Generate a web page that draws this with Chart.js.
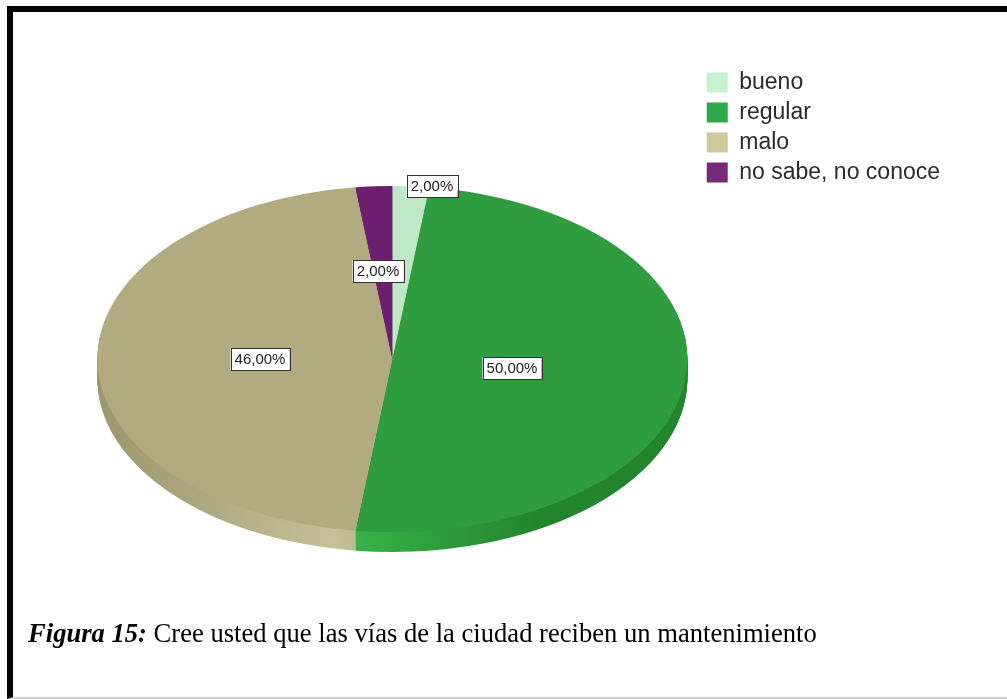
<!DOCTYPE html>
<html>
<head>
<meta charset="utf-8">
<script src="https://cdn.jsdelivr.net/npm/chart.js@4.4.0/dist/chart.umd.min.js"></script>
<style>
  html, body { margin: 0; padding: 0; background: #fff; }
  body { width: 1007px; height: 699px; position: relative; overflow: hidden; }
  #marco { position: absolute; left: 7px; top: 6px; right: -30px; bottom: 0; border-left: 6px solid #000; border-top: 6px solid #000; border-bottom: 2px solid #cfcfcf; }
  #grafico { position: absolute; left: 0; top: 0; }
  #pie { position: absolute; left: 28px; top: 618px; font-family: "Liberation Serif", "Times New Roman", serif; font-size: 26.6px; color: #000; white-space: nowrap; }
</style>
</head>
<body>
<div id="marco"></div>
<canvas id="grafico" width="1007" height="699"></canvas>
<div id="pie"><b><i>Figura 15:</i></b> Cree usted que las vías de la ciudad reciben un mantenimiento</div>
<script>
// datos
var categorias = ['bueno', 'regular', 'malo', 'no sabe, no conoce'];
var porcentajes = [2, 50, 46, 2];

// colores (cara, lado oscuro, frente del borde, leyenda)
var coloresCara = ['#bfe9c6', '#2e9c3f', '#b2ab81', '#6c1f6f'];
var coloresLado = ['#a5d2ac', '#23842e', '#9c966d', '#521552'];
var coloresFrente = ['#c9f2d0', '#3ab84b', '#c6c09a', '#7b2c7c'];
var coloresLeyenda = ['#c5f3cc', '#2fa84a', '#cfc99b', '#772a78'];

var inclinacion = 173 / 295;
var profundidad = 20;
var distEtiqueta = [1.0, 0.41, 0.45, 0.51];
var corrEtiqueta = [21, 0, 0, -5];

function props(arc) {
    return arc.getProps(['x', 'y', 'startAngle', 'endAngle', 'outerRadius'], true);
}

var pastel3d = {
    id: 'pastel3d',
    beforeDatasetDraw: function (chart, args) {
        var ctx = chart.ctx;
        var arcs = args.meta.data;
        var p0 = props(arcs[0]);
        var cx = p0.x, cy = p0.y, r = p0.outerRadius;
        ctx.save();
        ctx.translate(cx, cy);
        ctx.scale(1, inclinacion);
        ctx.translate(-cx, -cy);
        // lado del pastel
        var grads = coloresLado.map(function (c, i) {
            var g = ctx.createLinearGradient(cx - r, 0, cx + r, 0);
            g.addColorStop(0, c);
            g.addColorStop(0.4, coloresFrente[i]);
            g.addColorStop(0.75, c);
            g.addColorStop(1, c);
            return g;
        });
        for (var d = profundidad; d > 0; d--) {
            arcs.forEach(function (arc, i) {
                var p = props(arc);
                var y = p.y + d / inclinacion;
                ctx.beginPath();
                ctx.moveTo(p.x, y);
                ctx.arc(p.x, y, p.outerRadius, p.startAngle, p.endAngle);
                ctx.closePath();
                ctx.fillStyle = grads[i];
                ctx.fill();
            });
        }
    },
    afterDatasetDraw: function (chart) {
        chart.ctx.restore();
    }
};

var etiquetas = {
    id: 'etiquetas',
    afterDatasetsDraw: function (chart) {
        var ctx = chart.ctx;
        var meta = chart.getDatasetMeta(0);
        ctx.save();
        ctx.font = '15px "Liberation Sans", Arial, sans-serif';
        ctx.textAlign = 'center';
        ctx.textBaseline = 'middle';
        meta.data.forEach(function (arc, i) {
            var p = props(arc);
            var a = (p.startAngle + p.endAngle) / 2;
            var rr = p.outerRadius * distEtiqueta[i];
            var x = Math.round(p.x + Math.cos(a) * rr + corrEtiqueta[i]);
            var y = Math.round(p.y + Math.sin(a) * rr * inclinacion);
            var txt = porcentajes[i].toFixed(2).replace('.', ',') + '%';
            var w = Math.round(ctx.measureText(txt).width + 8), h = 22;
            ctx.fillStyle = '#fff';
            ctx.fillRect(x - w / 2, y - h / 2, w, h);
            ctx.strokeStyle = '#333';
            ctx.lineWidth = 1;
            ctx.strokeRect(Math.round(x - w / 2) + 0.5, y - h / 2 + 0.5, w, h);
            ctx.fillStyle = '#222';
            ctx.fillText(txt, x, y + 1);
        });
        ctx.restore();
    }
};

var ctx = document.getElementById('grafico').getContext('2d');
var grafico = new Chart(ctx, {
    type: 'pie',
    data: {
        labels: categorias,
        datasets: [{
            data: porcentajes,
            backgroundColor: coloresCara,
            borderWidth: 0,
            clip: false
        }]
    },
    options: {
        responsive: false,
        animation: false,
        layout: { padding: { left: 85, top: 64, right: 57, bottom: 45 } },
        plugins: {
            legend: {
                position: 'right',
                align: 'start',
                labels: {
                    boxWidth: 21,
                    boxHeight: 20,
                    padding: 7,
                    color: '#2b2b2b',
                    font: { family: '"Liberation Sans", Arial, sans-serif', size: 23 },
                    generateLabels: function (chart) {
                        var items = Chart.overrides.doughnut.plugins.legend.labels.generateLabels(chart);
                        items.forEach(function (it, i) {
                            it.fillStyle = coloresLeyenda[i];
                            it.strokeStyle = coloresLeyenda[i];
                            it.lineWidth = 0;
                        });
                        return items;
                    }
                }
            },
            tooltip: { enabled: false }
        }
    },
    plugins: [pastel3d, etiquetas]
});
</script>
</body>
</html>
